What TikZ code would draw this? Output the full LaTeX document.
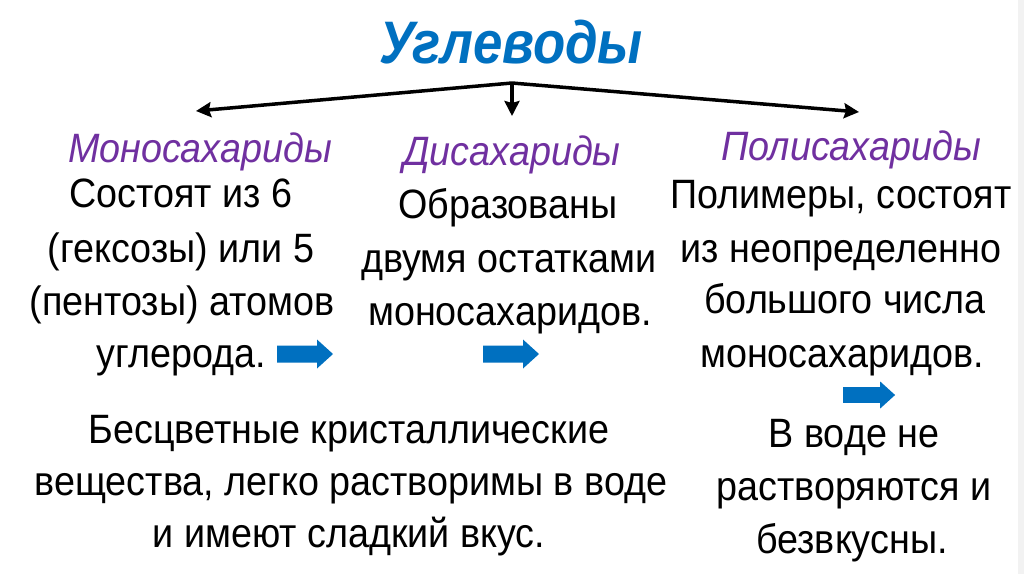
\documentclass[tikz,border=0pt]{standalone}
\usepackage{fontspec}
\setmainfont{Liberation Sans}
\newfontfamily\titlefont[FakeStretch=0.88]{Liberation Sans}
\newfontfamily\bodyfont[FakeStretch=0.92]{Liberation Sans}
\usetikzlibrary{arrows.meta}
\definecolor{titleblue}{RGB}{0,112,192}
\definecolor{headpurple}{RGB}{112,48,160}
\definecolor{arrowblue}{RGB}{0,112,192}
\tikzset{
  titletext/.style={anchor=base,inner sep=0pt,text=titleblue,font=\titlefont\fontsize{60}{70}\selectfont\bfseries\itshape},
  headtext/.style={anchor=base,inner sep=0pt,text=headpurple,font=\bodyfont\fontsize{41}{48}\selectfont\itshape},
  bodytext/.style={anchor=base,inner sep=0pt,text=black,font=\bodyfont\fontsize{41}{48}\selectfont},
  conn/.style={line width=3.5pt,-{Stealth[length=15pt,width=15pt,inset=2pt]}},
  blockarrow/.pic={\fill[arrowblue] (0,-8.5) -- (40,-8.5) -- (40,-14.5) -- (56,0) -- (40,14.5) -- (40,8.5) -- (0,8.5) -- cycle;}
}
\begin{document}
\begin{tikzpicture}[x=1pt,y=-1pt]
\useasboundingbox (0,0) rectangle (1024,574);
\fill[white] (0,0) rectangle (1024,574);
\fill[black!5] (1018,0) rectangle (1024,574);
% title
\node[titletext] (title) at (511,63) {Углеводы};
% connectors
\coordinate (J) at (512,83);
\coordinate (L) at (196,111);
\coordinate (D) at (512,116);
\coordinate (R) at (859,112);
\draw[conn] (J) -- (L);
\draw[conn] (J) -- (D);
\draw[conn] (J) -- (R);
% headings
\node[headtext] (h1) at (200,162) {Моносахариды};
\node[headtext] (h2) at (512,165) {Дисахариды};
\node[headtext] (h3) at (851,160) {Полисахариды};
% column 1
\node[bodytext] (a1) at (181,207) {Состоят из 6};
\node[bodytext] (a2) at (181,262) {(гексозы) или 5};
\node[bodytext] (a3) at (182,315) {(пентозы) атомов};
\node[bodytext] (a4) at (181,367) {углерода.};
% column 2
\node[bodytext] (b1) at (508,218) {Образованы};
\node[bodytext] (b2) at (509,272) {двумя остатками};
\node[bodytext] (b3) at (510,325) {моносахаридов.};
% column 3
\node[bodytext] (c1) at (841,208) {Полимеры, состоят};
\node[bodytext] (c2) at (841,262) {из неопределенно};
\node[bodytext] (c3) at (845,313) {большого числа};
\node[bodytext] (c4) at (842,367) {моносахаридов.};
% bottom left
\node[bodytext] (d1) at (349,443) {Бесцветные кристаллические};
\node[bodytext] (d2) at (351,495) {вещества, легко растворимы в воде};
\node[bodytext] (d3) at (349,547) {и имеют сладкий вкус.};
% bottom right
\node[bodytext] (e1) at (854,447) {В воде не};
\node[bodytext] (e2) at (854,500) {растворяются и};
\node[bodytext] (e3) at (852,553) {безвкусны.};
% blue arrows
\pic at (277,354) {blockarrow};
\pic at (483,354) {blockarrow};
\pic[scale=0.93] at (843,395) {blockarrow};
\end{tikzpicture}
\end{document}
